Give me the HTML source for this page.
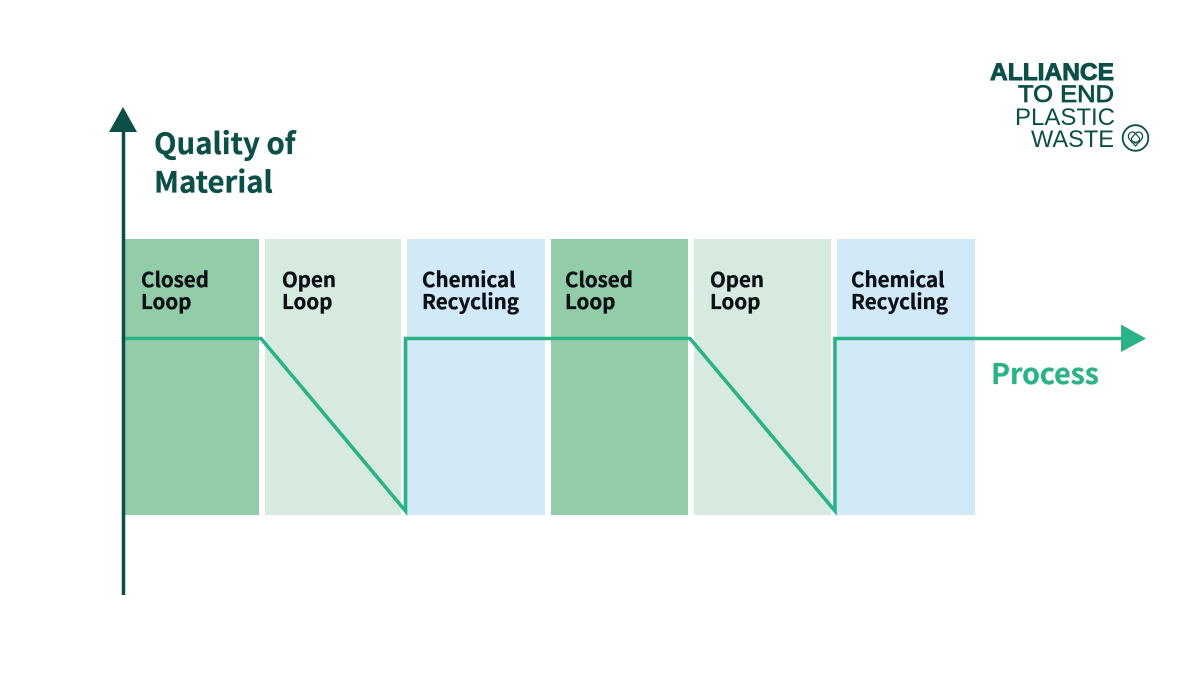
<!DOCTYPE html>
<html><head><meta charset="utf-8"><style>
html,body{margin:0;padding:0;background:#fff}
svg{display:block}
.h{font-family:"Noto Sans CJK JP","Liberation Sans",sans-serif;font-weight:700}
.l{font-family:"Noto Sans CJK JP","Liberation Sans",sans-serif;font-weight:700;font-size:20.5px;fill:#0a0f14;stroke:#0a0f14;stroke-width:.35px}
.g{font-family:"Liberation Sans",sans-serif;fill:#0b4f48}
</style></head><body>
<svg width="1200" height="675" viewBox="0 0 1200 675" xmlns="http://www.w3.org/2000/svg">
<rect width="1200" height="675" fill="#fff"/>
<rect x="124" y="239" width="135" height="276" fill="#92cca9"/>
<rect x="265" y="239" width="136" height="276" fill="#d6eadf"/>
<rect x="407" y="239" width="138" height="276" fill="#d2e9f8"/>
<rect x="551" y="239" width="137" height="276" fill="#92cca9"/>
<rect x="694" y="239" width="137" height="276" fill="#d6eadf"/>
<rect x="837" y="239" width="138" height="276" fill="#d2e9f8"/>
<text class="l" x="141" y="287">Closed</text><text class="l" x="141" y="309">Loop</text>
<text class="l" x="282" y="287">Open</text><text class="l" x="282" y="309">Loop</text>
<text class="l" x="422" y="287">Chemical</text><text class="l" x="422" y="309">Recycling</text>
<text class="l" x="565" y="287">Closed</text><text class="l" x="565" y="309">Loop</text>
<text class="l" x="710" y="287">Open</text><text class="l" x="710" y="309">Loop</text>
<text class="l" x="851" y="287">Chemical</text><text class="l" x="851" y="309">Recycling</text>
<polyline points="124,338.500 261,338.500 405.500,511 405.500,338.500 690,338.500 835,511 835,338.500 1125,338.500" fill="none" stroke="#2bb387" stroke-width="3.600"/>
<polygon points="1121,324.500 1146,338.500 1121,352" fill="#2bb387"/>
<line x1="123.500" y1="128" x2="123.500" y2="595" stroke="#0b4f48" stroke-width="3.500"/>
<polygon points="123,107 137,132 109,132" fill="#0b4f48"/>
<text class="h" x="154" y="154" font-size="29.300" fill="#0b4f48" stroke="#0b4f48" stroke-width=".3">Quality of</text>
<text class="h" x="154" y="192.500" font-size="29.300" fill="#0b4f48" stroke="#0b4f48" stroke-width=".3">Material</text>
<text class="h" x="991" y="384" font-size="28.500" fill="#2bb387" stroke="#2bb387" stroke-width=".3">Process</text>
<text class="g" x="990" y="80" font-size="24" font-weight="700" stroke="#0b4f48" stroke-width=".9" textLength="124" lengthAdjust="spacingAndGlyphs">ALLIANCE</text>
<text class="g" x="1018" y="102" font-size="24" stroke="#0b4f48" stroke-width=".8" textLength="96" lengthAdjust="spacingAndGlyphs">TO END</text>
<text class="g" x="1015" y="125" font-size="24" textLength="100" lengthAdjust="spacingAndGlyphs">PLASTIC</text>
<text class="g" x="1031" y="147" font-size="24" textLength="83" lengthAdjust="spacingAndGlyphs">WASTE</text>
<circle cx="1135.500" cy="138" r="12.800" fill="none" stroke="#0b4f48" stroke-width="1.800"/>
<path d="M1135.500 146 L1129.500 139.500 Q1127 135.500 1130 132.800 Q1133 131 1135.500 133.500 Q1138 131 1141 132.800 Q1144 135.500 1141.500 139.500 Z M1135.500 133.500 L1131.500 138 Q1131 141 1134 142 L1137 143 M1135.500 133.500 L1139.500 138 Q1140 141 1137 142 L1134 143" fill="none" stroke="#0b4f48" stroke-width="1.200"/>
</svg>
</body></html>
